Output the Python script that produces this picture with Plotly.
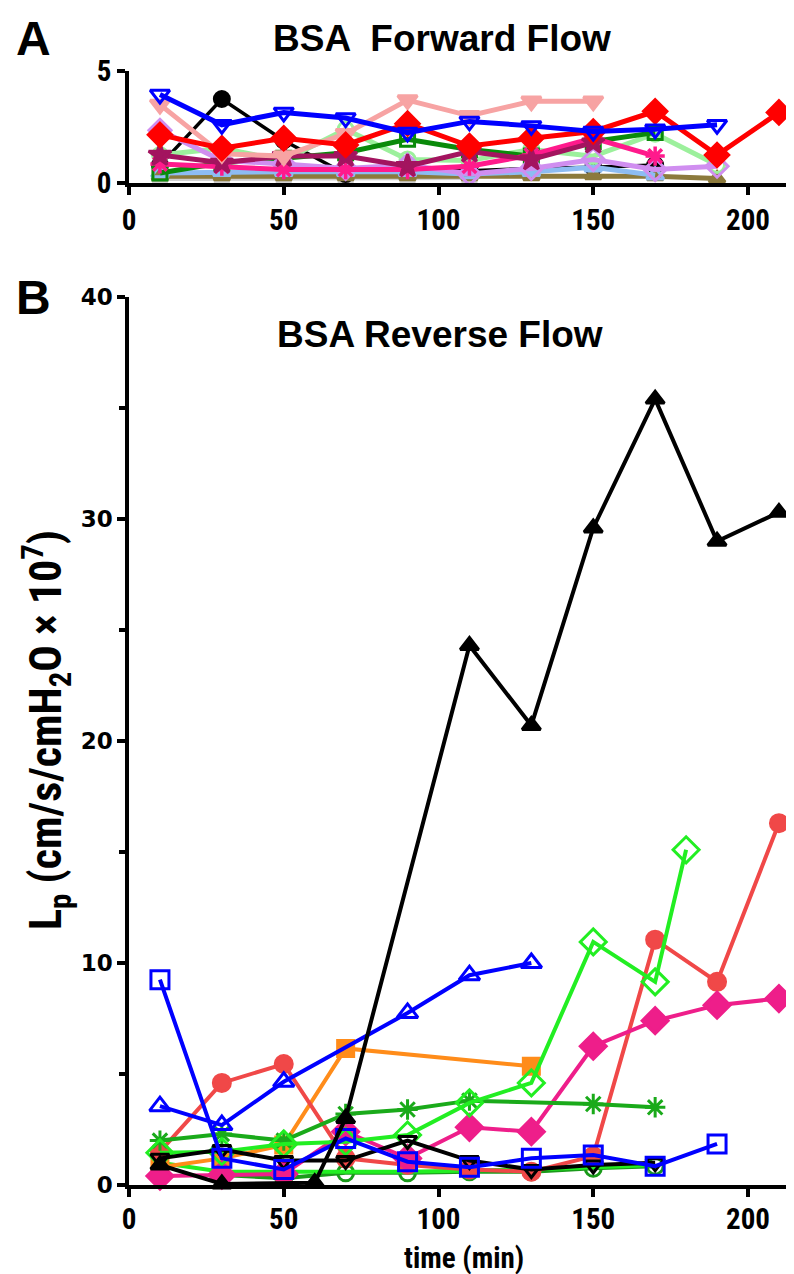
import plotly.graph_objects as go

# ---------------- Panel A: BSA Forward Flow ----------------
A_gray_x = [10, 30, 50, 70, 90, 110]
A_gray_y = [0.2, 0.2, 0.2, 0.2, 0.25, 0.25]
A_olive_x = [10, 30, 50, 70, 90, 110, 130, 150, 170, 190]
A_olive_y = [0.3, 0.3, 0.3, 0.3, 0.3, 0.3, 0.3, 0.35, 0.3, 0.2]
A_ltblue_x = [10, 30, 50, 70, 90, 110, 130, 150, 170]
A_ltblue_y = [0.45, 0.5, 0.5, 0.5, 0.5, 0.4, 0.5, 0.7, 0.35]
A_ltgreen_x = [10, 30, 50, 70, 90, 110, 130, 150, 170, 190]
A_ltgreen_y = [1.25, 1.55, 1.0, 2.4, 1.05, 1.0, 1.5, 1.2, 2.2, 0.8]
A_dkgreen_x = [10, 30, 50, 70, 90, 110, 130, 150, 170]
A_dkgreen_y = [0.45, 0.9, 1.1, 1.35, 1.95, 1.5, 1.2, 1.85, 2.25]
A_violet_x = [10, 30, 50, 70, 90, 110, 130, 150, 170, 190]
A_violet_y = [2.35, 1.0, 0.85, 0.65, 0.8, 0.4, 0.65, 1.05, 0.6, 0.75]
A_pink_x = [10, 30, 50, 70, 90, 110, 130, 150, 170]
A_pink_y = [0.85, 0.75, 0.6, 0.6, 0.6, 0.75, 1.25, 2.0, 1.2]
A_maroon_x = [10, 30, 50, 70, 90, 110, 130, 150]
A_maroon_y = [1.25, 0.9, 1.2, 1.2, 0.75, 1.4, 1.05, 1.8]
A_salmon_x = [10, 30, 50, 70, 90, 110, 130, 150]
A_salmon_y = [3.5, 1.3, 1.2, 2.2, 3.7, 3.0, 3.65, 3.65]
A_black_x = [10, 30, 50, 70, 90, 110, 130, 150, 170]
A_black_y = [0.8, 3.75, 1.9, 0.4, 0.55, 0.55, 0.65, 0.7, 0.8]
A_red_x = [10, 30, 50, 70, 90, 110, 130, 150, 170, 190, 210]
A_red_y = [2.15, 1.55, 2.0, 1.7, 2.65, 1.65, 2.0, 2.3, 3.2, 1.25, 3.15]
A_blue_x = [10, 30, 50, 70, 90, 110, 130, 150, 170, 190]
A_blue_y = [3.95, 2.6, 3.15, 2.9, 2.25, 2.75, 2.55, 2.3, 2.4, 2.6]

# ---------------- Panel B: BSA Reverse Flow ----------------
B_dkgreen_x = [30, 50, 70, 90, 110, 130, 150, 170]
B_dkgreen_y = [0.45, 0.3, 0.55, 0.55, 0.6, 0.6, 0.75, 0.85]
B_limeline_x = [10, 30, 50, 70, 90, 110, 130, 150, 170]
B_limeline_y = [1.0, 0.6, 0.6, 0.6, 0.6, 0.65, 0.7, 0.8, 0.9]
B_orange_x = [10, 30, 50, 70, 130]
B_orange_y = [0.8, 1.2, 1.8, 6.15, 5.35]
B_coral_x = [10, 30, 50, 70, 90, 110, 130, 150, 170, 190, 210]
B_coral_y = [1.5, 4.6, 5.45, 1.2, 0.9, 0.7, 0.6, 1.3, 11.05, 9.15, 16.3]
B_magenta_x = [10, 30, 50, 70, 90, 110, 130, 150, 170, 190, 210]
B_magenta_y = [0.4, 0.45, 0.5, 2.4, 1.2, 2.6, 2.4, 6.25, 7.4, 8.1, 8.4]
B_green_x = [10, 30, 50, 70, 90, 110, 150, 170]
B_green_y = [2.0, 2.3, 2.0, 3.2, 3.4, 3.8, 3.65, 3.5]
B_lime_x = [10, 30, 50, 70, 90, 110, 130, 150, 170, 180]
B_lime_y = [1.45, 1.5, 1.85, 1.95, 2.25, 3.7, 4.6, 10.95, 9.15, 15.1]
B_blacknabla_x = [10, 30, 50, 70, 90, 110, 130, 150, 170]
B_blacknabla_y = [1.2, 1.6, 1.1, 1.1, 2.0, 1.1, 0.7, 0.9, 1.0]
B_bluesq_x = [10, 30, 50, 70, 90, 110, 130, 150, 170, 190]
B_bluesq_y = [9.25, 1.2, 0.7, 2.1, 1.05, 0.8, 1.2, 1.35, 0.85, 1.85]
B_bluetri_x = [10, 30, 50, 90, 110, 130]
B_bluetri_y = [3.55, 2.7, 4.65, 7.75, 9.45, 10.0]
B_blacktri_x = [10, 30, 60, 70, 110, 130, 150, 170, 190, 210]
B_blacktri_y = [0.9, 0.05, 0.1, 3.0, 24.3, 20.7, 29.6, 35.4, 29.0, 30.3]

x_ticks = [0, 50, 100, 150, 200]
A_y_ticks = [0, 5]
B_y_ticks = [0, 10, 20, 30, 40]

fig = go.Figure()


def add(x, y, color, symbol, size, axis, lw=4, mlw=3, mode="lines+markers"):
    xa, ya = axis
    fig.add_trace(go.Scatter(
        x=x, y=y, mode=mode, xaxis=xa, yaxis=ya,
        line=dict(color=color, width=lw),
        marker=dict(symbol=symbol, size=size, color=color,
                    line=dict(color=color, width=mlw)),
        cliponaxis=False, showlegend=False, hoverinfo="skip"))


PA = ("x", "y")
PB = ("x2", "y2")

# Panel A traces (back to front)
add(A_gray_x, A_gray_y, "#cfcfcf", "square", 13, PA, lw=5)
add(A_black_x, A_black_y, "#000000", "circle", 15, PA, lw=3.5)
add(A_olive_x, A_olive_y, "#8c7a3c", "triangle-up", 14, PA, lw=5)
add(A_ltblue_x, A_ltblue_y, "#8dbcf2", "triangle-up-open", 15, PA, lw=5)
add(A_ltgreen_x, A_ltgreen_y, "#9cf09c", "circle-open", 15, PA, lw=5)
add(A_dkgreen_x, A_dkgreen_y, "#0a8a0a", "square-open", 14, PA, lw=5)
add(A_violet_x, A_violet_y, "#d08ef0", "diamond-open", 17, PA, lw=5)
add(A_pink_x, A_pink_y, "#ff1a8c", "asterisk-open", 16, PA, lw=5, mlw=3.5)
add(A_maroon_x, A_maroon_y, "#a3145f", "star", 17, PA, lw=5)
add(A_salmon_x, A_salmon_y, "#f7a3a3", "triangle-down", 17, PA, lw=5)
add(A_red_x, A_red_y, "#ff0000", "diamond", 18, PA, lw=5)
add(A_blue_x, A_blue_y, "#0000ff", "triangle-down-open", 17, PA, lw=5)

# Panel B traces (back to front)
add(B_dkgreen_x, B_dkgreen_y, "#1a9a1a", "circle-open", 16, PB)
add(B_limeline_x, B_limeline_y, "#22ee22", "circle", 1, PB, mode="lines")
add(B_orange_x, B_orange_y, "#ff8c1a", "square", 16, PB)
add(B_coral_x, B_coral_y, "#f04848", "circle", 17, PB)
add(B_magenta_x, B_magenta_y, "#ee1e8a", "diamond", 20, PB)
add(B_green_x, B_green_y, "#1aaa1a", "asterisk-open", 17, PB)
add(B_lime_x, B_lime_y, "#22ee22", "diamond-open", 20, PB)
add(B_blacknabla_x, B_blacknabla_y, "#000000", "triangle-down-open", 16, PB)
add(B_bluesq_x, B_bluesq_y, "#0000ff", "square-open", 18, PB)
add(B_bluetri_x, B_bluetri_y, "#0000ff", "triangle-up-open", 18, PB)
add(B_blacktri_x, B_blacktri_y, "#000000", "triangle-up", 16, PB)

W, H = 794, 1274
xdom = [121 / W, 791 / W]
xrng = [0, (791 - 121) / 3.095]

narrow = "Roboto Condensed, Liberation Sans Narrow, Arial Narrow, Liberation Sans, Arial"
tick_font = dict(family=narrow, size=29, color="black")
ytick_font_B = dict(family="DejaVu Sans, Arial Black, Liberation Sans", size=23, color="black")

axis_common = dict(showline=True, linecolor="black", linewidth=3.5, ticks="outside",
                   ticklen=8, tickwidth=3.5, tickcolor="black", showgrid=False,
                   zeroline=False, fixedrange=True, automargin=False)

fig.update_layout(
    width=W, height=H, margin=dict(l=0, r=0, t=0, b=0, autoexpand=False),
    paper_bgcolor="white", plot_bgcolor="white",
    xaxis=dict(domain=xdom, range=xrng, anchor="y", tickvals=x_ticks,
               ticktext=[f"<b>{t}</b>" for t in x_ticks], tickfont=tick_font, **axis_common),
    yaxis=dict(domain=[(H - 175) / H, (H - 63) / H], range=[0, 5], anchor="x",
               tickvals=A_y_ticks, ticktext=[f"<b>{t}</b>" for t in A_y_ticks],
               tickfont=tick_font, **axis_common),
    xaxis2=dict(domain=xdom, range=xrng, anchor="y2", tickvals=x_ticks,
                ticktext=[f"<b>{t}</b>" for t in x_ticks], tickfont=tick_font,
                ticklabelstandoff=-3, **axis_common),
    yaxis2=dict(domain=[(H - 1177) / H, (H - 289) / H], range=[0, 40], anchor="x2",
                tickvals=B_y_ticks, ticktext=[f"<b>{t}</b>" for t in B_y_ticks],
                tickfont=ytick_font_B,
                minor=dict(dtick=5, ticks="outside", ticklen=6, tickwidth=3.5, tickcolor="black"),
                **axis_common),
)

title_font = dict(family="Liberation Sans, Arial", size=37, color="black")


def ann(text, px, py, font, angle=0):
    fig.add_annotation(text=text, x=px / W, y=1 - py / H, xref="paper", yref="paper",
                       showarrow=False, font=font, textangle=angle,
                       xanchor="center", yanchor="middle")


ann("<b>BSA  Forward Flow</b>", 434, 30, title_font)
ann("<b>BSA Reverse Flow</b>", 432, 326, title_font)
ann("<b>A</b>", 25, 30, dict(family="Liberation Sans, Arial", size=48, color="black"))
ann("<b>B</b>", 25, 289, dict(family="Liberation Sans, Arial", size=48, color="black"))
ann("<b>time (min)</b>", 456, 1250, dict(family=narrow, size=29, color="black"))
ann("<b>L<sub>p</sub> (cm/s/cmH<sub>2</sub>O × 10<sup>7</sup>)</b>", 38, 722,
    dict(family=narrow, size=44, color="black"), angle=-90)

fig.write_html("out.html")
